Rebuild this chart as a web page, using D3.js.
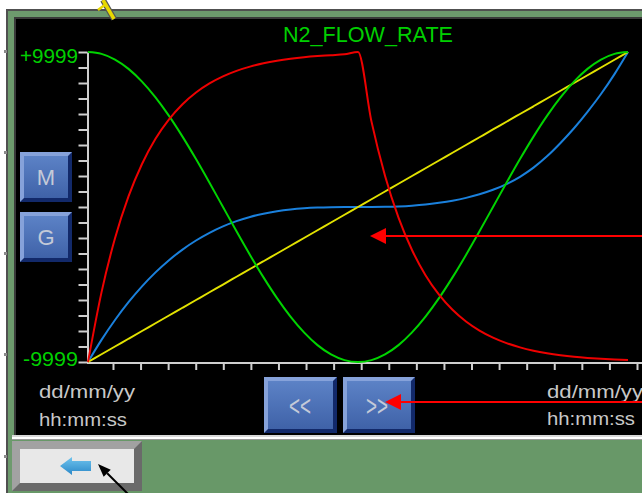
<!DOCTYPE html>
<html><head><meta charset="utf-8">
<script src="https://cdn.jsdelivr.net/npm/d3@7"></script>
<style>body{margin:0;background:#fff}svg{display:block}</style>
</head><body><svg id="c" width="642" height="493"></svg>
<script>
const title = "N2_FLOW_RATE";
const yDomain = [-9999, 9999];
const yTickLabels = ["+9999", "-9999"];
const timeLabels = ["dd/mm/yy", "hh:mm:ss"];
const sampleIndex = [0,1,2,3,4,5,6,7,8,9,10,11,12,13,14,15,16,17,18,19,20,21,22,23,24,25,26,27,28,29,30,31,32,33,34,35,36,37,38,39,40];
const greenValues = [9999,9876,9510,8909,8089,7070,5877,4540,3090,1564,0,-1564,-3090,-4540,-5877,-7070,-8089,-8909,-9510,-9876,-9999,-9876,-9510,-8909,-8089,-7070,-5877,-4540,-3090,-1564,0,1564,3090,4540,5877,7070,8089,8909,9510,9876,9999];
const redValues = [-9999,-5506,-2022,680,2774,4398,5655,6631,7389,7975,8429,8783,9055,9267,9431,9559,9659,9735,9795,9860,9999,5506,2022,-680,-2774,-4398,-5655,-6631,-7389,-7975,-8429,-8783,-9055,-9267,-9431,-9559,-9659,-9735,-9795,-9841,-9877];
const blueValues = [-9999,-8574,-7289,-6141,-5119,-4218,-3430,-2746,-2160,-1664,-1250,-911,-640,-429,-270,-156,-80,-34,-10,-1,0,1,10,34,80,156,270,410,590,820,1110,1480,1950,2540,3270,4130,5080,6141,7289,8574,9999];
const yellowValues = [-9999,-9499,-8999,-8499,-7999,-7499,-6999,-6499,-5999,-5499,-5000,-4500,-4000,-3500,-3000,-2500,-2000,-1500,-1000,-500,0,500,1000,1500,2000,2500,3000,3500,4000,4500,5000,5499,5999,6499,6999,7499,7999,8499,8999,9499,9999];
const xTickValues = [1,2,3,4,5,6,7,8,9,10,11,12,13,14,15,16,17,18,19,20];
const yTickValues = [-9999,-8999,-7999,-6999,-5999,-4999,-3999,-2999,-1999,-999,0,999,1999,2999,3999,4999,5999,6999,7999,8999,9999];
const series = [
  {name:"blue", values: blueValues, color:"#1a80dc"},
  {name:"yellow", values: yellowValues, color:"#e2e200"},
  {name:"green", values: greenValues, color:"#00d400"},
  {name:"red", values: redValues, color:"#ee0000"}
];

const svg = d3.select("#c");
const font = "'Liberation Sans', Arial, sans-serif";

// background frame
svg.append("rect").attr("x",0).attr("y",0).attr("width",642).attr("height",493).attr("fill","#fff");
svg.append("rect").attr("x",6).attr("y",9).attr("width",640).attr("height",490).attr("fill","#505050");
svg.append("rect").attr("x",8).attr("y",11).attr("width",640).attr("height",490).attr("fill","#6d9a6d");
svg.append("rect").attr("x",14).attr("y",17).attr("width",640).attr("height",420).attr("fill","#3a3a3a");
svg.append("rect").attr("x",16).attr("y",19).attr("width",640).attr("height",416).attr("fill","#000");
// bottom separator strip
svg.append("rect").attr("x",12).attr("y",435).attr("width",640).attr("height",2).attr("fill","#d8d8d8");
svg.append("rect").attr("x",12).attr("y",437).attr("width",640).attr("height",2).attr("fill","#ffffff");
svg.append("rect").attr("x",12).attr("y",439).attr("width",640).attr("height",1).attr("fill","#9a9a9a");
svg.append("rect").attr("x",12).attr("y",440).attr("width",640).attr("height",53).attr("fill","#689868");
// left margin marks
[50,151,252,353,455].forEach(yy => svg.append("rect").attr("x",4).attr("y",yy).attr("width",3).attr("height",3).attr("fill","#8a8a8a"));

// scales
const x = d3.scaleLinear().domain([0,40]).range([88,628]);
const y = d3.scaleLinear().domain(yDomain).range([362,52]);
const xt = d3.scaleLinear().domain([0,20]).range([85.4,637]);

// axes
const yAxis = svg.append("g").attr("transform","translate(87.5,0)")
  .call(d3.axisLeft(y).tickValues(yTickValues).tickSize(9).tickSizeOuter(0).tickFormat(""));
yAxis.selectAll("path,line").attr("stroke","#cfcfcf").attr("stroke-width",2);
const xAxis = svg.append("g").attr("transform","translate(0,363)")
  .call(d3.axisBottom(xt).tickValues(xTickValues).tickSize(7).tickSizeOuter(0).tickFormat(""));
xAxis.select(".domain").remove();
xAxis.selectAll("line").attr("stroke","#cfcfcf").attr("stroke-width",2);
svg.append("line").attr("x1",87).attr("x2",642).attr("y1",363).attr("y2",363).attr("stroke","#cfcfcf").attr("stroke-width",2);

// y labels
svg.append("text").attr("x",78).attr("y",63).attr("text-anchor","end").attr("font-family",font).attr("font-size",20)
  .attr("fill","#00d000").attr("textLength",58).attr("lengthAdjust","spacingAndGlyphs").text(yTickLabels[0]);
svg.append("text").attr("x",78).attr("y",366).attr("text-anchor","end").attr("font-family",font).attr("font-size",20)
  .attr("fill","#00d000").attr("textLength",55).attr("lengthAdjust","spacingAndGlyphs").text(yTickLabels[1]);

// title
svg.append("text").attr("x",283).attr("y",42).attr("font-family",font).attr("font-size",22)
  .attr("fill","#00d000").attr("textLength",170).attr("lengthAdjust","spacingAndGlyphs").text(title);

// lines
const line = d3.line().x((d,i)=>x(sampleIndex[i])).y(d=>y(d)).curve(d3.curveMonotoneX);
series.forEach(s => {
  svg.append("path").datum(s.values).attr("d",line).attr("fill","none").attr("stroke",s.color).attr("stroke-width",2);
});

// time labels
function tlabel(xx, yy, txt, len){
  svg.append("text").attr("x",xx).attr("y",yy).attr("font-family",font).attr("font-size",18)
    .attr("fill","#c8c8c8").attr("textLength",len).attr("lengthAdjust","spacingAndGlyphs").text(txt);
}
tlabel(39,398,timeLabels[0],96);
tlabel(39,426,timeLabels[1],88);
tlabel(547,398,timeLabels[0],96);
tlabel(547,425,timeLabels[1],88);

// bevel buttons
const defs = svg.append("defs");
const bg = defs.append("linearGradient").attr("id","bf").attr("x1",0).attr("y1",0).attr("x2",0).attr("y2",1);
bg.append("stop").attr("offset","0").attr("stop-color","#5c82c6");
bg.append("stop").attr("offset","1").attr("stop-color","#3f62a8");
function bevel(x0,y0,w,h,b,face,light,dark){
  const g = svg.append("g");
  g.append("rect").attr("x",x0).attr("y",y0).attr("width",w).attr("height",h).attr("fill",dark);
  g.append("polygon").attr("points",`${x0},${y0} ${x0+w},${y0} ${x0+w-b},${y0+b} ${x0+b},${y0+b} ${x0+b},${y0+h-b} ${x0},${y0+h}`).attr("fill",light);
  g.append("rect").attr("x",x0+b).attr("y",y0+b).attr("width",w-2*b).attr("height",h-2*b).attr("fill",face);
  return g;
}
function btext(cx,cy,txt,size,len){
  const t = svg.append("text").attr("x",cx).attr("y",cy).attr("text-anchor","middle").attr("font-family",font)
    .attr("font-size",size).attr("fill","#c4cad8").text(txt);
  if(len) t.attr("textLength",len).attr("lengthAdjust","spacingAndGlyphs");
}
bevel(20,152,52,50,4,"url(#bf)","#86a2da","#12296a");
btext(46,185,"M",22);
bevel(20,212,52,50,4,"url(#bf)","#86a2da","#12296a");
btext(46,245,"G",22);
bevel(264,377,73,56,4,"url(#bf)","#86a2da","#12296a");
btext(300,416,"<<",30,22);
bevel(343,377,72,56,4,"url(#bf)","#86a2da","#12296a");
btext(377,416,">>",30,22);

// bottom back button
bevel(12,441,130,50,8,"#e8e8e8","#a2a2a2","#6a6a6a");
const ag = defs.append("linearGradient").attr("id","ab").attr("x1",0).attr("y1",0).attr("x2",0).attr("y2",1);
ag.append("stop").attr("offset","0").attr("stop-color","#70c4ee");
ag.append("stop").attr("offset","1").attr("stop-color","#2a88c8");
svg.append("polygon").attr("points","60,466 72,457 72,461 91,461 91,471 72,471 72,475").attr("fill","url(#ab)");

// annotation arrows
function arrow(tipX, tipY, dx, dy, head, half, color, w, x2, y2){
  const bx = tipX + dx*head, by = tipY + dy*head;
  svg.append("line").attr("x1",bx).attr("y1",by).attr("x2",x2).attr("y2",y2).attr("stroke",color).attr("stroke-width",w);
  svg.append("polygon").attr("points",`${tipX},${tipY} ${bx - dy*half},${by + dx*half} ${bx + dy*half},${by - dx*half}`).attr("fill",color);
}
arrow(370,236,1,0,16,8,"#ff0000",2,642,236);
arrow(385,402,1,0,16,8,"#ff0000",2,642,402);
arrow(98,464,0.7071,0.7071,13,5,"#000",2,132,498);

// yellow mark at top
svg.append("line").attr("x1",103).attr("y1",0).attr("x2",114).attr("y2",19).attr("stroke","#555").attr("stroke-width",6);
svg.append("line").attr("x1",103).attr("y1",0).attr("x2",114).attr("y2",19).attr("stroke","#e8d800").attr("stroke-width",3.5);
svg.append("line").attr("x1",98).attr("y1",10).attr("x2",106).attr("y2",4).attr("stroke","#e8d800").attr("stroke-width",2.5);
</script></body></html>
